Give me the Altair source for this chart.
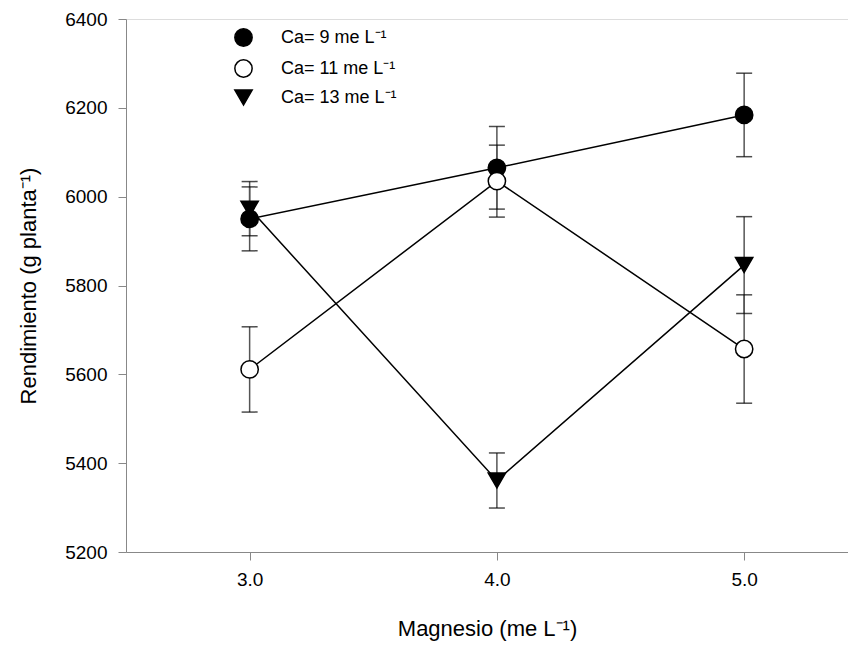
import altair as alt
import pandas as pd

magnesio = [3.0, 4.0, 5.0]
series_names = ["Ca= 9 me L⁻¹", "Ca= 11 me L⁻¹", "Ca= 13 me L⁻¹"]
ca9 = [5950, 6065, 6184]
ca9_err = [72, 93, 94]
ca11 = [5611, 6035, 5657]
ca11_err = [96, 81, 122]
ca13 = [5973, 5361, 5846]
ca13_err = [61, 62, 109]

rows = []
for name, vals, errs in zip(series_names, [ca9, ca11, ca13], [ca9_err, ca11_err, ca13_err]):
    for xv, v, e in zip(magnesio, vals, errs):
        rows.append({"Mg": xv, "serie": name, "y": v, "lo": v - e, "hi": v + e})
df = pd.DataFrame(rows)

FONT = "Liberation Sans"

xscale = alt.Scale(domain=[2.5, 5.42], nice=False, zero=False)
yscale = alt.Scale(domain=[5200, 6400], nice=False, zero=False)

xaxis = alt.Axis(values=[3, 4, 5], format=".1f", grid=False, tickSize=8,
                 labelFontSize=19, titleFontSize=22, labelPadding=10,
                 titlePadding=29, title="Magnesio (me L⁻¹)", titleFontWeight="normal",
                 labelFont=FONT, titleFont=FONT)
yaxis = alt.Axis(values=[5200, 5400, 5600, 5800, 6000, 6200, 6400], format="d", grid=False,
                 tickSize=8, labelFontSize=19, titleFontSize=22, labelPadding=11,
                 titlePadding=24, title="Rendimiento (g planta⁻¹)", titleFontWeight="normal",
                 labelFont=FONT, titleFont=FONT)

base = alt.Chart(df)

lines = base.mark_line(color="black", strokeWidth=1.5).encode(
    x=alt.X("Mg:Q", scale=xscale, axis=xaxis),
    y=alt.Y("y:Q", scale=yscale, axis=yaxis),
    detail="serie:N",
    order="Mg:Q",
)

bars = base.mark_rule(color="#555555", strokeWidth=1.5).encode(
    x="Mg:Q", y="lo:Q", y2="hi:Q"
)
cap_lo = base.mark_tick(color="black", size=16, thickness=1.5, orient="horizontal").encode(
    x="Mg:Q", y="lo:Q"
)
cap_hi = base.mark_tick(color="black", size=16, thickness=1.5, orient="horizontal").encode(
    x="Mg:Q", y="hi:Q"
)


def leg():
    return alt.Legend(title=None, orient="none", legendX=108, legendY=9,
                      labelFontSize=18, symbolSize=300, rowPadding=6,
                      labelOffset=28, symbolStrokeWidth=1.5, padding=0,
                      labelFont=FONT, labelColor="black")


points = base.mark_point(filled=True, size=300, strokeWidth=1.5, opacity=1).encode(
    x="Mg:Q",
    y="y:Q",
    shape=alt.Shape("serie:N", sort=series_names,
                    scale=alt.Scale(domain=series_names, range=["circle", "circle", "triangle-down"]),
                    legend=leg()),
    fill=alt.Fill("serie:N", sort=series_names,
                  scale=alt.Scale(domain=series_names, range=["black", "white", "black"]),
                  legend=leg()),
    stroke=alt.Stroke("serie:N", sort=series_names,
                      scale=alt.Scale(domain=series_names, range=["black", "black", "black"]),
                      legend=leg()),
)

chart = alt.layer(lines, bars, cap_lo, cap_hi, points).properties(
    width=722, height=533,
    autosize=alt.AutoSizeParams(type="none"),
    padding={"left": 118, "top": 11, "right": 0, "bottom": 90},
).configure_view(stroke=None).configure_axis(
    domainColor="black", domainWidth=1.5, tickColor="black", tickWidth=1,
    labelColor="black", titleColor="black",
).configure_axisX(domainWidth=2).configure(background="white")

chart.save("out.html", embed_options={"renderer": "svg", "actions": False})
